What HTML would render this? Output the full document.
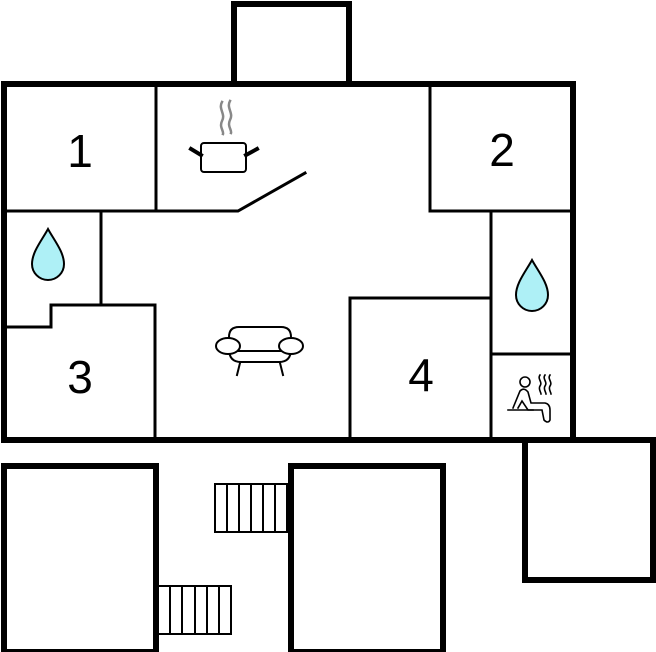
<!DOCTYPE html>
<html><head><meta charset="utf-8"><style>html,body{margin:0;padding:0;background:#fff;}svg{display:block}</style></head>
<body>
<svg width="656" height="652" viewBox="0 0 656 652" xmlns="http://www.w3.org/2000/svg">
<g fill="none" stroke="#000" stroke-linecap="square">
<rect x="4" y="84" width="569" height="356" stroke-width="6"/>
<path d="M234 84 V4 H349 V84" stroke-width="6"/>
<line x1="234" y1="83" x2="349" y2="83" stroke-width="2"/>
<path d="M573 440 H653 V580 H525 V440" stroke-width="6"/>
<rect x="4" y="466" width="152" height="186" stroke-width="6"/>
<rect x="291" y="466" width="152" height="186" stroke-width="6"/>
<g stroke-width="3">
<line x1="156" y1="84" x2="156" y2="211"/>
<polyline points="4,211 238,211 305,173"/>
<polyline points="430,84 430,211 573,211"/>
<line x1="101" y1="211" x2="101" y2="303"/>
<polyline points="4,327 51,327 51,305 155,305 155,440"/>
<polyline points="350,440 350,298 491,298"/>
<line x1="491" y1="211" x2="491" y2="440"/>
<line x1="491" y1="354" x2="573" y2="354"/>
</g>
<g stroke-width="2">
<rect x="215" y="484" width="72" height="48"/>
<line x1="227" y1="484" x2="227" y2="532"/><line x1="239" y1="484" x2="239" y2="532"/><line x1="251" y1="484" x2="251" y2="532"/><line x1="263" y1="484" x2="263" y2="532"/><line x1="275" y1="484" x2="275" y2="532"/>
<rect x="158" y="586" width="73" height="48"/>
<line x1="170" y1="586" x2="170" y2="634"/><line x1="182" y1="586" x2="182" y2="634"/><line x1="195" y1="586" x2="195" y2="634"/><line x1="207" y1="586" x2="207" y2="634"/><line x1="219" y1="586" x2="219" y2="634"/>
</g>
<path d="M222 102 c-4 7 4 12 0 19 c-3 6 2 10 1 13 M230 101 c-4 7 4 12 0 19 c-3 6 2 10 1 13" stroke="#888" stroke-width="2.5"/>
<rect x="201" y="143" width="45" height="29" rx="3" stroke-width="2"/>
<line x1="191" y1="149" x2="201" y2="155" stroke-width="4"/>
<line x1="246" y1="155" x2="257" y2="149" stroke-width="4"/>
<g stroke-width="2">
<path d="M229 349 V337 q0-10 10-10 h42 q10 0 10 10 V349"/>
<path d="M229 349 q0 13 12 13 h38 q12 0 12-13"/>
<line x1="236" y1="351" x2="283" y2="351"/>
<ellipse cx="228" cy="346" rx="12" ry="8" fill="#fff"/>
<ellipse cx="291" cy="346" rx="12" ry="8" fill="#fff"/>
<line x1="240" y1="363" x2="237" y2="375"/><line x1="280" y1="363" x2="283" y2="375"/>
</g>
<path d="M48 229 C42 240 32 252 32 264 a16 16 0 0 0 32 0 C64 252 54 240 48 229 Z" fill="#aef0f6" stroke-width="2"/>
<path d="M532 260 C526 271 516 283 516 295 a16 16 0 0 0 32 0 C548 283 538 271 532 260 Z" fill="#aef0f6" stroke-width="2"/>
<g stroke-width="1.6">
<circle cx="525" cy="382" r="5"/>
<path d="M513 408 L520 391 Q524 387 528 392 L531 403 H545 Q550 404 550 410 L550 420 Q548 424 544 420 L542 410 H528 L522 401 L518 408"/>
<line x1="508" y1="410" x2="533" y2="410"/>
<path d="M540 375 c-3 4 3 7 0 11 c-2 3 1 6 1 8 M545 375 c-3 4 3 7 0 11 c-2 3 1 6 1 8 M550 375 c-3 4 3 7 0 11 c-2 3 1 6 1 8"/>
</g>
</g>
<g font-family="Liberation Sans, sans-serif" font-size="46" text-anchor="middle" fill="#000">
<text x="80" y="167">1</text>
<text x="502" y="166">2</text>
<text x="80" y="393">3</text>
<text x="421" y="391">4</text>
</g>
</svg>
</body></html>
